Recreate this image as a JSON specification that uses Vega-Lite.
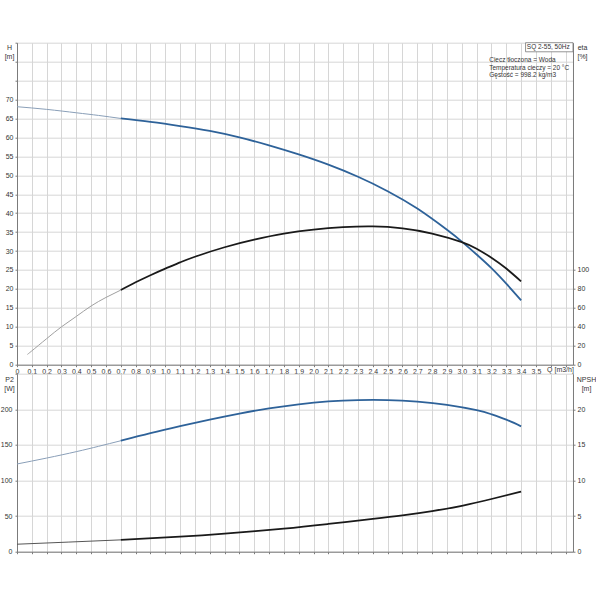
{
  "$schema": "https://vega.github.io/schema/vega-lite/v6.json",
  "padding": {"left": 0, "top": 38.7, "right": 0, "bottom": 0},
  "background": "white",
  "bounds": "flush",
  "spacing": 9,
  "config": {
    "view": {"stroke": null},
    "font": "Liberation Sans",
    "line": {"interpolate": "natural"},
    "axis": {
      "labelFont": "Liberation Sans", "titleFont": "Liberation Sans",
      "labelFontSize": 7, "titleFontSize": 7, "titleFontWeight": "normal",
      "labelColor": "#333", "titleColor": "#333",
      "domainColor": "#7a7a7a", "tickColor": "#7a7a7a", "gridColor": "#d6d6d6",
      "tickSize": 2, "labelPadding": 2, "labelOverlap": false, "labelFlush": false, "labelBound": false
    }
  },
  "datasets": {
    "curves": [
      {"c": "H", "s": "thin", "q": 0, "v": 68.1},
      {"c": "H", "s": "thin", "q": 0.2, "v": 67.4},
      {"c": "H", "s": "thin", "q": 0.4, "v": 66.5},
      {"c": "H", "s": "thin", "q": 0.55, "v": 65.8},
      {"c": "H", "s": "thin", "q": 0.7, "v": 65.0},
      {"c": "H", "s": "thick", "q": 0.7, "v": 65.0},
      {"c": "H", "s": "thick", "q": 0.9, "v": 64.1},
      {"c": "H", "s": "thick", "q": 1.1, "v": 63.0},
      {"c": "H", "s": "thick", "q": 1.3, "v": 61.7},
      {"c": "H", "s": "thick", "q": 1.5, "v": 60.0},
      {"c": "H", "s": "thick", "q": 1.7, "v": 57.9},
      {"c": "H", "s": "thick", "q": 1.9, "v": 55.5},
      {"c": "H", "s": "thick", "q": 2.1, "v": 52.8},
      {"c": "H", "s": "thick", "q": 2.3, "v": 49.6},
      {"c": "H", "s": "thick", "q": 2.5, "v": 45.8},
      {"c": "H", "s": "thick", "q": 2.7, "v": 41.2},
      {"c": "H", "s": "thick", "q": 2.9, "v": 35.6},
      {"c": "H", "s": "thick", "q": 3.0, "v": 32.5},
      {"c": "H", "s": "thick", "q": 3.1, "v": 29.1},
      {"c": "H", "s": "thick", "q": 3.2, "v": 25.5},
      {"c": "H", "s": "thick", "q": 3.3, "v": 21.4},
      {"c": "H", "s": "thick", "q": 3.4, "v": 17.0},
      {"c": "eta", "s": "thin", "q": 0.07, "v": 10.8},
      {"c": "eta", "s": "thin", "q": 0.1, "v": 14.6},
      {"c": "eta", "s": "thin", "q": 0.2, "v": 27.5},
      {"c": "eta", "s": "thin", "q": 0.3, "v": 40},
      {"c": "eta", "s": "thin", "q": 0.4, "v": 51},
      {"c": "eta", "s": "thin", "q": 0.5, "v": 62},
      {"c": "eta", "s": "thin", "q": 0.6, "v": 71},
      {"c": "eta", "s": "thin", "q": 0.7, "v": 78.8},
      {"c": "eta", "s": "thick", "q": 0.7, "v": 78.8},
      {"c": "eta", "s": "thick", "q": 0.8, "v": 87},
      {"c": "eta", "s": "thick", "q": 0.9, "v": 94.5},
      {"c": "eta", "s": "thick", "q": 1.0, "v": 101.5},
      {"c": "eta", "s": "thick", "q": 1.1, "v": 108},
      {"c": "eta", "s": "thick", "q": 1.2, "v": 114},
      {"c": "eta", "s": "thick", "q": 1.4, "v": 124},
      {"c": "eta", "s": "thick", "q": 1.6, "v": 132},
      {"c": "eta", "s": "thick", "q": 1.8, "v": 138.3},
      {"c": "eta", "s": "thick", "q": 2.0, "v": 142.6},
      {"c": "eta", "s": "thick", "q": 2.2, "v": 145.2},
      {"c": "eta", "s": "thick", "q": 2.4, "v": 146},
      {"c": "eta", "s": "thick", "q": 2.6, "v": 144},
      {"c": "eta", "s": "thick", "q": 2.8, "v": 138.5},
      {"c": "eta", "s": "thick", "q": 3.0, "v": 129.5},
      {"c": "eta", "s": "thick", "q": 3.1, "v": 122.5},
      {"c": "eta", "s": "thick", "q": 3.2, "v": 113},
      {"c": "eta", "s": "thick", "q": 3.3, "v": 101.5},
      {"c": "eta", "s": "thick", "q": 3.4, "v": 88},
      {"c": "P2", "s": "thin", "q": 0, "v": 123.2},
      {"c": "P2", "s": "thin", "q": 0.2, "v": 131.5},
      {"c": "P2", "s": "thin", "q": 0.4, "v": 140.5},
      {"c": "P2", "s": "thin", "q": 0.55, "v": 148},
      {"c": "P2", "s": "thin", "q": 0.7, "v": 155.8},
      {"c": "P2", "s": "thick", "q": 0.7, "v": 155.8},
      {"c": "P2", "s": "thick", "q": 0.9, "v": 166.5},
      {"c": "P2", "s": "thick", "q": 1.1, "v": 176.3},
      {"c": "P2", "s": "thick", "q": 1.3, "v": 185.5},
      {"c": "P2", "s": "thick", "q": 1.5, "v": 194},
      {"c": "P2", "s": "thick", "q": 1.7, "v": 201.3},
      {"c": "P2", "s": "thick", "q": 1.9, "v": 207},
      {"c": "P2", "s": "thick", "q": 2.1, "v": 211},
      {"c": "P2", "s": "thick", "q": 2.3, "v": 213},
      {"c": "P2", "s": "thick", "q": 2.5, "v": 213},
      {"c": "P2", "s": "thick", "q": 2.7, "v": 210.8},
      {"c": "P2", "s": "thick", "q": 2.9, "v": 206.3},
      {"c": "P2", "s": "thick", "q": 3.1, "v": 198.8},
      {"c": "P2", "s": "thick", "q": 3.2, "v": 193},
      {"c": "P2", "s": "thick", "q": 3.3, "v": 185.5},
      {"c": "P2", "s": "thick", "q": 3.4, "v": 176},
      {"c": "NPSH", "s": "thin", "q": 0, "v": 1.05},
      {"c": "NPSH", "s": "thin", "q": 0.35, "v": 1.35},
      {"c": "NPSH", "s": "thin", "q": 0.7, "v": 1.66},
      {"c": "NPSH", "s": "thick", "q": 0.7, "v": 1.66},
      {"c": "NPSH", "s": "thick", "q": 1.1, "v": 2.12},
      {"c": "NPSH", "s": "thick", "q": 1.4, "v": 2.55},
      {"c": "NPSH", "s": "thick", "q": 1.8, "v": 3.25},
      {"c": "NPSH", "s": "thick", "q": 2.1, "v": 3.9},
      {"c": "NPSH", "s": "thick", "q": 2.4, "v": 4.6},
      {"c": "NPSH", "s": "thick", "q": 2.6, "v": 5.1},
      {"c": "NPSH", "s": "thick", "q": 2.8, "v": 5.7},
      {"c": "NPSH", "s": "thick", "q": 3.0, "v": 6.45},
      {"c": "NPSH", "s": "thick", "q": 3.2, "v": 7.4},
      {"c": "NPSH", "s": "thick", "q": 3.4, "v": 8.45}
    ],
    "box": [
      {"q": 3.43, "q2": 3.75, "v": 82.6, "v2": 85}
    ],
    "title": [
      {"q": 3.728, "v": 83.95, "label": "SQ 2-55, 50Hz"}
    ],
    "notes": [
      {"q": 3.185, "v": 80.4, "label": "Ciecz tłoczona = Woda"},
      {"q": 3.185, "v": 78.4, "label": "Temperatura cieczy = 20 °C"},
      {"q": 3.185, "v": 76.5, "label": "Gęstość = 998.2 kg/m3"}
    ]
  },
  "vconcat": [
    {
      "width": 556,
      "height": 322,
      "encoding": {
        "x": {
          "field": "q", "type": "quantitative",
          "scale": {"domain": [0, 3.75], "nice": false, "zero": false},
          "axis": {
            "values": [0, 0.1, 0.2, 0.3, 0.4, 0.5, 0.6, 0.7, 0.8, 0.9, 1.0, 1.1, 1.2, 1.3, 1.4, 1.5, 1.6, 1.7, 1.8, 1.9, 2.0, 2.1, 2.2, 2.3, 2.4, 2.5, 2.6, 2.7, 2.8, 2.9, 3.0, 3.1, 3.2, 3.3, 3.4, 3.5, 3.6, 3.7],
            "labelExpr": "datum.value == 0 ? '0' : datum.value > 3.55 ? '' : replace(format(datum.value, '.1f'), '.', ',')",
            "labelBaseline": "top", "labelPadding": 1,
            "title": "Q [m3/h]", "titleX": 543, "titleY": 4.5,
            "titleAlign": "center", "titleBaseline": "middle", "titleAnchor": null
          }
        }
      },
      "layer": [
        {
          "encoding": {
            "y": {
              "field": "v", "type": "quantitative",
              "scale": {"domain": [0, 85], "nice": false},
              "axis": {
                "values": [0, 5, 10, 15, 20, 25, 30, 35, 40, 45, 50, 55, 60, 65, 70, 75, 80, 85],
                "labelExpr": "datum.value > 70 ? '' : datum.label",
                "title": ["H", "[m]"], "titleAngle": 0, "titleX": -8, "titleY": 1,
                "titleAlign": "center", "titleBaseline": "top", "titleAnchor": null
              }
            }
          },
          "layer": [
            {
              "data": {"name": "curves"},
              "transform": [{"filter": "datum.c == 'H' && datum.s == 'thin'"}],
              "mark": {"type": "line", "color": "#8a9fb8", "strokeWidth": 1}
            },
            {
              "data": {"name": "curves"},
              "transform": [{"filter": "datum.c == 'H' && datum.s == 'thick'"}],
              "mark": {"type": "line", "color": "#2e6299", "strokeWidth": 1.8}
            },
            {
              "data": {"name": "box"},
              "mark": {"type": "rect", "fill": "white", "stroke": "#7a7a7a", "strokeWidth": 0.8},
              "encoding": {"x2": {"field": "q2"}, "y2": {"field": "v2"}}
            },
            {
              "data": {"name": "title"},
              "mark": {"type": "text", "align": "right", "baseline": "middle", "fontSize": 6.5, "color": "#333"},
              "encoding": {"text": {"field": "label"}}
            },
            {
              "data": {"name": "notes"},
              "mark": {"type": "text", "align": "left", "baseline": "middle", "fontSize": 6.5, "color": "#333"},
              "encoding": {"text": {"field": "label"}}
            }
          ]
        },
        {
          "data": {"name": "curves"},
          "encoding": {
            "y": {
              "field": "v", "type": "quantitative",
              "scale": {"domain": [0, 340], "nice": false},
              "axis": {
                "orient": "right", "grid": false,
                "values": [0, 20, 40, 60, 80, 100],
                "title": ["eta", "[%]"], "titleAngle": 0, "titleX": 9, "titleY": 1,
                "titleAlign": "center", "titleBaseline": "top", "titleAnchor": null
              }
            }
          },
          "layer": [
            {
              "transform": [{"filter": "datum.c == 'eta' && datum.s == 'thin'"}],
              "mark": {"type": "line", "color": "#a0a0a0", "strokeWidth": 1}
            },
            {
              "transform": [{"filter": "datum.c == 'eta' && datum.s == 'thick'"}],
              "mark": {"type": "line", "color": "#1a1a1a", "strokeWidth": 1.8}
            }
          ]
        }
      ],
      "resolve": {"scale": {"y": "independent"}}
    },
    {
      "width": 556,
      "height": 178,
      "data": {"name": "curves"},
      "encoding": {
        "x": {
          "field": "q", "type": "quantitative",
          "scale": {"domain": [0, 3.75], "nice": false, "zero": false},
          "axis": {
            "values": [0, 0.1, 0.2, 0.3, 0.4, 0.5, 0.6, 0.7, 0.8, 0.9, 1.0, 1.1, 1.2, 1.3, 1.4, 1.5, 1.6, 1.7, 1.8, 1.9, 2.0, 2.1, 2.2, 2.3, 2.4, 2.5, 2.6, 2.7, 2.8, 2.9, 3.0, 3.1, 3.2, 3.3, 3.4, 3.5, 3.6, 3.7],
            "labels": false, "title": null
          }
        }
      },
      "layer": [
        {
          "encoding": {
            "y": {
              "field": "v", "type": "quantitative",
              "scale": {"domain": [0, 250], "nice": false},
              "axis": {
                "values": [0, 50, 100, 150, 200, 250],
                "labelExpr": "datum.value > 200 ? '' : datum.label",
                "labelPadding": 3,
                "title": ["P2", "[W]"], "titleAngle": 0, "titleX": -8, "titleY": 2,
                "titleAlign": "center", "titleBaseline": "top", "titleAnchor": null
              }
            }
          },
          "layer": [
            {
              "transform": [{"filter": "datum.c == 'P2' && datum.s == 'thin'"}],
              "mark": {"type": "line", "color": "#8a9fb8", "strokeWidth": 1}
            },
            {
              "transform": [{"filter": "datum.c == 'P2' && datum.s == 'thick'"}],
              "mark": {"type": "line", "color": "#2e6299", "strokeWidth": 1.8}
            }
          ]
        },
        {
          "encoding": {
            "y": {
              "field": "v", "type": "quantitative",
              "scale": {"domain": [0, 25], "nice": false},
              "axis": {
                "orient": "right", "grid": false,
                "values": [0, 5, 10, 15, 20],
                "title": ["NPSH", "[m]"], "titleAngle": 0, "titleX": 13, "titleY": 2,
                "titleAlign": "center", "titleBaseline": "top", "titleAnchor": null
              }
            }
          },
          "layer": [
            {
              "transform": [{"filter": "datum.c == 'NPSH' && datum.s == 'thin'"}],
              "mark": {"type": "line", "color": "#555555", "strokeWidth": 1}
            },
            {
              "transform": [{"filter": "datum.c == 'NPSH' && datum.s == 'thick'"}],
              "mark": {"type": "line", "color": "#1a1a1a", "strokeWidth": 1.8}
            }
          ]
        }
      ],
      "resolve": {"scale": {"y": "independent"}}
    }
  ]
}
